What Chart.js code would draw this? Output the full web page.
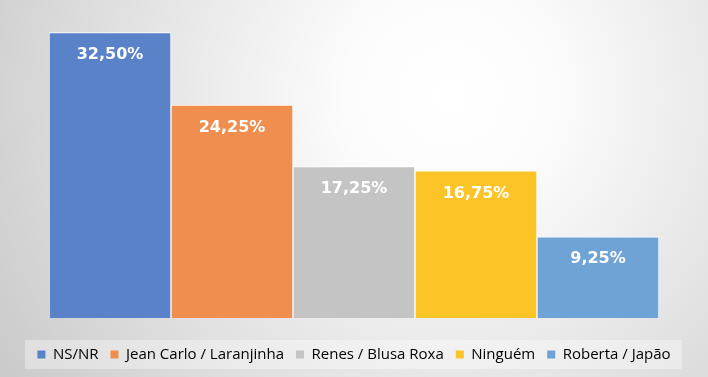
<!DOCTYPE html>
<html><head><meta charset="utf-8">
<script src="https://cdn.jsdelivr.net/npm/chart.js@4/dist/chart.umd.min.js"></script>
<style>html,body{margin:0;padding:0;background:#fff}#w{width:708px;height:377px;position:relative}</style>
</head><body><div id="w"><canvas id="c" width="708" height="377"></canvas></div>
<script>
const categories = ['NS/NR', 'Jean Carlo / Laranjinha', 'Renes / Blusa Roxa', 'Ninguém', 'Roberta / Japão'];
const values = [32.50, 24.25, 17.25, 16.75, 9.25];
const colors = ['#5a82c8', '#ef8e4e', '#c4c4c4', '#fdc427', '#6fa3d6'];

const bgPlugin = {
  id: 'bg',
  beforeDraw(chart) {
    const ctx = chart.ctx, w = chart.width, h = chart.height;
    ctx.save();
    const g = ctx.createRadialGradient(450, 95, 0, 450, 95, 520);
    g.addColorStop(0, '#ffffff');
    g.addColorStop(0.2, '#fcfcfc');
    g.addColorStop(1, '#cbcbcb');
    ctx.fillStyle = g;
    ctx.fillRect(0, 0, w, h);
    ctx.fillStyle = 'rgba(255,255,255,0.35)';
    ctx.fillRect(25, 340, 657, 29);
    ctx.restore();
  }
};
const labelPlugin = {
  id: 'lbl',
  afterDatasetsDraw(chart) {
    const ctx = chart.ctx;
    const meta = chart.getDatasetMeta(0);
    ctx.save();
    ctx.fillStyle = '#ffffff';
    ctx.font = 'bold 16px "DejaVu Sans", sans-serif';
    ctx.textAlign = 'center';
    ctx.textBaseline = 'middle';
    meta.data.forEach((bar, i) => {
      ctx.fillText(values[i].toFixed(2).replace('.', ',') + '%', bar.x, bar.y + 22.5);
    });
    ctx.restore();
  }
};
const hiddenY = (pos) => ({
  position: pos, display: true, min: 0, max: 36.2,
  ticks: { display: false }, grid: { display: false }, border: { display: false },
  afterFit(s) { s.width = 49; }
});

new Chart(document.getElementById('c'), {
  type: 'bar',
  data: {
    labels: categories,
    datasets: [{
      data: values,
      backgroundColor: colors,
      borderColor: '#ffffff',
      borderWidth: 1,
      barPercentage: 1,
      categoryPercentage: 1,
      yAxisID: 'y'
    }]
  },
  options: {
    responsive: false,
    animation: false,
    layout: { padding: { left: 0, right: 0, top: 0, bottom: 5 } },
    scales: {
      x: {
        display: true, ticks: { display: false }, grid: { display: false }, border: { display: false },
        afterFit(s) { s.height = 17; }
      },
      y: hiddenY('left'),
      y2: hiddenY('right')
    },
    plugins: {
      tooltip: { enabled: false },
      legend: {
        position: 'bottom',
        labels: {
          boxWidth: 8, boxHeight: 8,
          color: '#595959',
          font: { size: 15, family: '"Open Sans", "Liberation Sans", sans-serif' },
          padding: 12,
          generateLabels() {
            return categories.map((c, i) => ({ text: c, fillStyle: colors[i], strokeStyle: colors[i], lineWidth: 0, index: i }));
          }
        }
      }
    }
  },
  plugins: [bgPlugin, labelPlugin]
});
</script></body></html>
